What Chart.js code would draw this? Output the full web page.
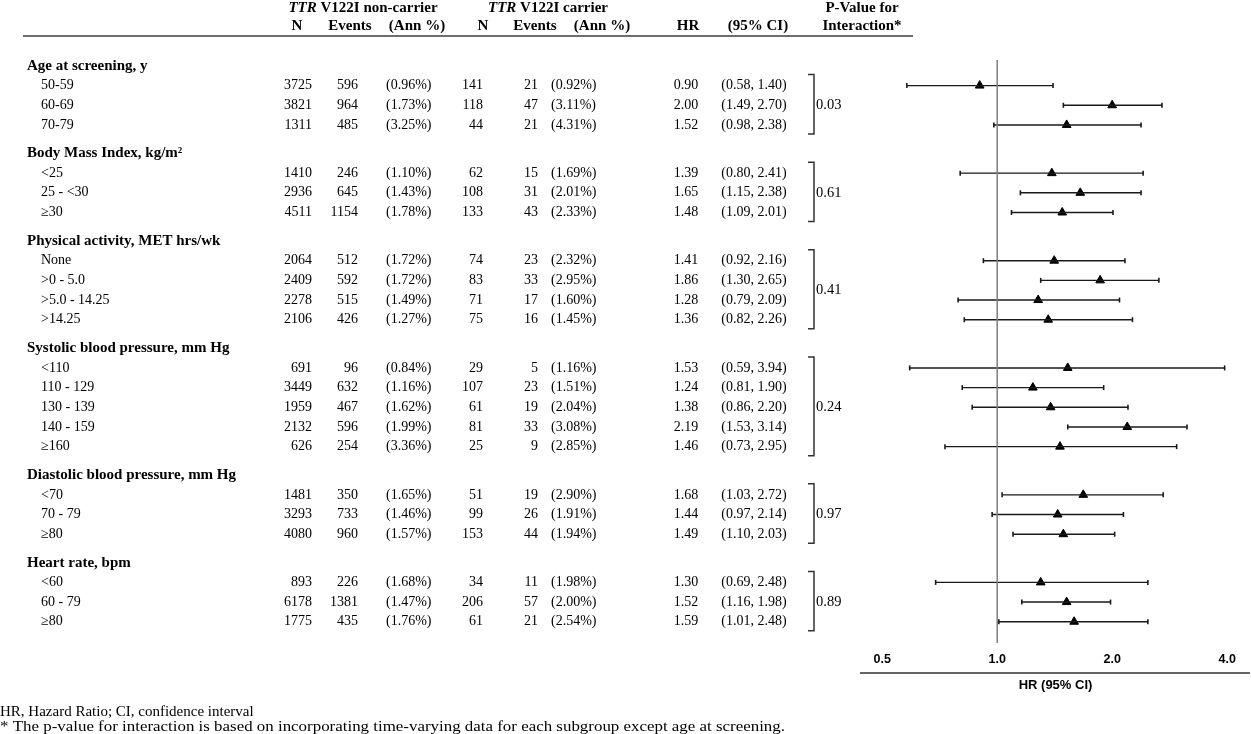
<!DOCTYPE html>
<html>
<head>
<meta charset="utf-8">
<title>TTR V122I forest plot</title>
<script src="https://cdn.jsdelivr.net/npm/chart.js@4.4.0/dist/chart.umd.min.js"></script>
<style>
  html, body { margin: 0; padding: 0; background: #fff; }
  #forest { display: block; }
</style>
</head>
<body>
<canvas id="forest" width="1251" height="734"></canvas>
<script>
/* =========================
   Dados da tabela
   ========================= */
const sections = ['Age at screening, y', 'Body Mass Index, kg/m\u00B2', 'Physical activity, MET hrs/wk',
  'Systolic blood pressure, mm Hg', 'Diastolic blood pressure, mm Hg', 'Heart rate, bpm'];
const sectionSize = [3, 3, 4, 5, 3, 3];
const subgroups = ['50-59', '60-69', '70-79',
  '<25', '25 - <30', '\u226530',
  'None', '>0 - 5.0', '>5.0 - 14.25', '>14.25',
  '<110', '110 - 129', '130 - 139', '140 - 159', '\u2265160',
  '<70', '70 - 79', '\u226580',
  '<60', '60 - 79', '\u226580'];
const nonN      = [3725, 3821, 1311, 1410, 2936, 4511, 2064, 2409, 2278, 2106, 691, 3449, 1959, 2132, 626, 1481, 3293, 4080, 893, 6178, 1775];
const nonEvents = [596, 964, 485, 246, 645, 1154, 512, 592, 515, 426, 96, 632, 467, 596, 254, 350, 733, 960, 226, 1381, 435];
const nonAnn    = [0.96, 1.73, 3.25, 1.10, 1.43, 1.78, 1.72, 1.72, 1.49, 1.27, 0.84, 1.16, 1.62, 1.99, 3.36, 1.65, 1.46, 1.57, 1.68, 1.47, 1.76];
const carN      = [141, 118, 44, 62, 108, 133, 74, 83, 71, 75, 29, 107, 61, 81, 25, 51, 99, 153, 34, 206, 61];
const carEvents = [21, 47, 21, 15, 31, 43, 23, 33, 17, 16, 5, 23, 19, 33, 9, 19, 26, 44, 11, 57, 21];
const carAnn    = [0.92, 3.11, 4.31, 1.69, 2.01, 2.33, 2.32, 2.95, 1.60, 1.45, 1.16, 1.51, 2.04, 3.08, 2.85, 2.90, 1.91, 1.94, 1.98, 2.00, 2.54];
const hr        = [0.90, 2.00, 1.52, 1.39, 1.65, 1.48, 1.41, 1.86, 1.28, 1.36, 1.53, 1.24, 1.38, 2.19, 1.46, 1.68, 1.44, 1.49, 1.30, 1.52, 1.59];
const ciLow     = [0.58, 1.49, 0.98, 0.80, 1.15, 1.09, 0.92, 1.30, 0.79, 0.82, 0.59, 0.81, 0.86, 1.53, 0.73, 1.03, 0.97, 1.10, 0.69, 1.16, 1.01];
const ciHigh    = [1.40, 2.70, 2.38, 2.41, 2.38, 2.01, 2.16, 2.65, 2.09, 2.26, 3.94, 1.90, 2.20, 3.14, 2.95, 2.72, 2.14, 2.03, 2.48, 1.98, 2.48];
const pInteraction = ['0.03', '0.61', '0.41', '0.24', '0.97', '0.89'];
const xTicks = [0.5, 1.0, 2.0, 4.0];

/* Posição vertical de cada linha (cabeçalho de seção + subgrupos, com espaço extra entre seções) */
const GAP = 0.45;
const headerPos = [];
const rowPos = [];
const firstRow = [];
let r = 0;
sectionSize.forEach((n, s) => {
  headerPos.push(r + s * GAP);
  r++;
  firstRow.push(rowPos.length);
  for (let i = 0; i < n; i++) { rowPos.push(r + s * GAP); r++; }
});
const yMin = -0.3;
const yMax = 29.33;

/* Datasets do forest plot */
const ciSegments = [];
const ciCaps = [];
rowPos.forEach((p, i) => {
  ciSegments.push({ x: ciLow[i], y: p }, { x: ciHigh[i], y: p }, { x: ciHigh[i], y: null });
  ciCaps.push({ x: ciLow[i], y: p }, { x: ciHigh[i], y: p });
});
const hrPoints = rowPos.map((p, i) => ({ x: hr[i], y: p }));

const SERIF = '"Liberation Serif", "Times New Roman", serif';
const SANS = '"Liberation Sans", Arial, sans-serif';

/* Plugin que desenha a tabela, colchetes, eixo e notas */
const tablePlugin = {
  id: 'tableText',
  afterDraw(chart) {
    const ctx = chart.ctx;
    const ys = chart.scales.y;
    const area = chart.chartArea;
    const Y = v => ys.getPixelForValue(v);
    ctx.save();
    ctx.fillStyle = '#000';
    ctx.textBaseline = 'middle';

    // cabeçalho
    const HB = 'bold 15px ' + SERIF;
    const drawTTR = (label, cx, y) => {
      ctx.font = 'italic ' + HB;
      const w1 = ctx.measureText('TTR').width;
      ctx.font = HB;
      const w2 = ctx.measureText(label).width;
      const x = cx - (w1 + w2) / 2;
      ctx.textAlign = 'left';
      ctx.font = 'italic ' + HB;
      ctx.fillText('TTR', x, y);
      ctx.font = HB;
      ctx.fillText(label, x + w1, y);
    };
    drawTTR(' V122I non-carrier', 363, 8);
    drawTTR(' V122I carrier', 548, 8);
    ctx.font = HB;
    ctx.textAlign = 'center';
    ctx.fillText('P-Value for', 862, 8);
    [['N', 297], ['Events', 350], ['(Ann %)', 417], ['N', 483], ['Events', 535], ['(Ann %)', 602],
     ['HR', 688], ['(95% CI)', 758], ['Interaction*', 862]].forEach(([t, x]) => ctx.fillText(t, x, 26));

    ctx.strokeStyle = '#6e6e6e';
    ctx.lineWidth = 2;
    ctx.beginPath();
    ctx.moveTo(23, 36); ctx.lineTo(913, 36);
    ctx.stroke();

    // seções
    sections.forEach((s, k) => {
      ctx.font = HB;
      ctx.textAlign = 'left';
      ctx.fillText(s, 27, Y(headerPos[k]));
    });

    // linhas
    ctx.font = '14px ' + SERIF;
    rowPos.forEach((p, i) => {
      const y = Y(p);
      ctx.textAlign = 'left';
      ctx.fillText(subgroups[i], 41, y);
      ctx.textAlign = 'right';
      ctx.fillText(String(nonN[i]), 312, y);
      ctx.fillText(String(nonEvents[i]), 358, y);
      ctx.fillText(String(carN[i]), 483, y);
      ctx.fillText(String(carEvents[i]), 538, y);
      ctx.textAlign = 'left';
      ctx.fillText('(' + nonAnn[i].toFixed(2) + '%)', 386, y);
      ctx.fillText('(' + carAnn[i].toFixed(2) + '%)', 551, y);
      ctx.textAlign = 'center';
      ctx.fillText(hr[i].toFixed(2), 686, y);
      ctx.fillText('(' + ciLow[i].toFixed(2) + ', ' + ciHigh[i].toFixed(2) + ')', 754, y);
    });

    // colchetes + p-valor
    ctx.strokeStyle = '#333';
    ctx.lineWidth = 1.5;
    ctx.font = '14.5px ' + SERIF;
    sectionSize.forEach((n, k) => {
      const top = Y(rowPos[firstRow[k]]) - 11;
      const bot = Y(rowPos[firstRow[k] + n - 1]) + 9;
      ctx.beginPath();
      ctx.moveTo(808, top); ctx.lineTo(814, top); ctx.lineTo(814, bot); ctx.lineTo(808, bot);
      ctx.stroke();
      ctx.textAlign = 'left';
      ctx.fillText(pInteraction[k], 816, (top + bot) / 2 + 1);
    });

    // linha do eixo x + título
    ctx.strokeStyle = '#666';
    ctx.lineWidth = 2;
    ctx.beginPath();
    ctx.moveTo(860, 673); ctx.lineTo(1250, 673);
    ctx.stroke();
    ctx.font = 'bold 13px ' + SANS;
    ctx.textAlign = 'center';
    ctx.fillText('HR (95% CI)', (area.left + area.right) / 2, 685);

    // notas de rodapé
    ctx.font = '15px ' + SERIF;
    ctx.textAlign = 'left';
    ctx.fillText('HR, Hazard Ratio; CI, confidence interval', 0, 712);
    const note = '* The p-value for interaction is based on incorporating time-varying data for each subgroup except age at screening.';
    const sx = 785 / ctx.measureText(note).width;
    ctx.save();
    ctx.translate(0, 727);
    ctx.scale(sx, 1);
    ctx.fillText(note, 0, 0);
    ctx.restore();
    ctx.restore();
  }
};

const chart = new Chart(document.getElementById('forest'), {
  type: 'scatter',
  data: {
    datasets: [
      { // linha de referência HR = 1
        type: 'line',
        data: [{ x: 1, y: yMin }, { x: 1, y: yMax }],
        borderColor: '#808080', borderWidth: 1.5, pointRadius: 0
      },
      { // intervalos de confiança
        type: 'line',
        data: ciSegments,
        borderColor: '#1a1a1a', borderWidth: 1.4, pointRadius: 0, spanGaps: false
      },
      { // terminais dos intervalos
        data: ciCaps,
        pointStyle: 'line', rotation: 90, radius: 2.5,
        borderColor: '#1a1a1a', borderWidth: 1.6
      },
      { // HR
        data: hrPoints,
        pointStyle: 'triangle', radius: 5,
        backgroundColor: '#000', borderColor: '#000', borderWidth: 1
      }
    ]
  },
  options: {
    responsive: false,
    devicePixelRatio: 1,
    animation: false,
    layout: { autoPadding: false, padding: { left: 861, right: 1, top: 60, bottom: 0 } },
    plugins: { legend: { display: false }, tooltip: { enabled: false } },
    scales: {
      x: {
        type: 'logarithmic',
        min: 0.44, max: 4.59,
        position: 'bottom',
        grid: { display: false, drawTicks: false },
        border: { display: false },
        afterBuildTicks: s => { s.ticks = xTicks.map(v => ({ value: v })); },
        afterFit: s => { s.height = 91; s.paddingLeft = 0; s.paddingRight = 0; },
        ticks: {
          autoSkip: false, maxRotation: 0, padding: 9,
          color: '#000',
          font: { family: SANS, size: 12.5, weight: 'bold' },
          callback: v => Number(v).toFixed(1)
        }
      },
      y: { type: 'linear', reverse: true, min: yMin, max: yMax, display: false }
    }
  },
  plugins: [tablePlugin]
});
</script>
</body>
</html>
